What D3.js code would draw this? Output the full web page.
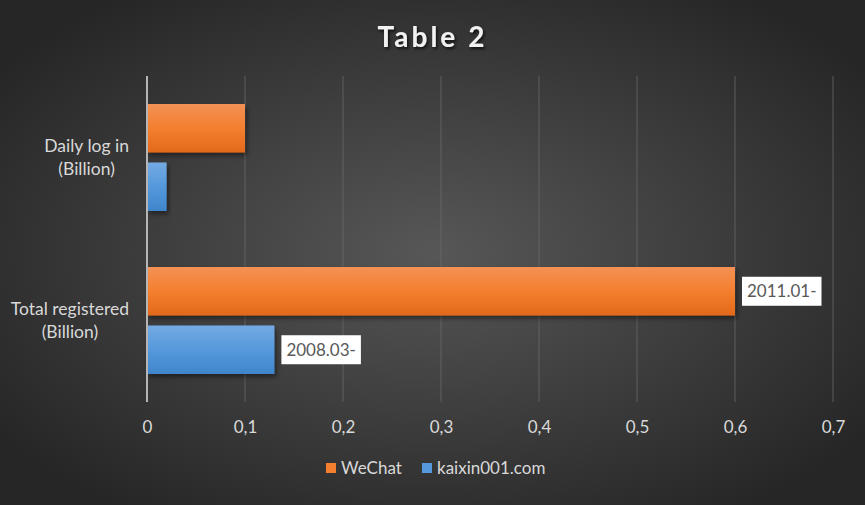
<!DOCTYPE html>
<html>
<head>
<meta charset="utf-8">
<script src="https://cdn.jsdelivr.net/npm/d3@7"></script>
<style>
  html, body { margin: 0; padding: 0; background: #333; }
  svg { display: block; }
</style>
</head>
<body>
<script>
const categories = ["Daily log in (Billion)", "Total registered (Billion)"];
const seriesNames = ["WeChat", "kaixin001.com"];
const wechatValues = [0.1, 0.6];
const kaixinValues = [0.02, 0.13];
const dataLabels = { WeChat: [null, "2011.01-"], "kaixin001.com": [null, "2008.03-"] };
const tickValues = [0, 0.1, 0.2, 0.3, 0.4, 0.5, 0.6, 0.7];
const title = "Table 2";

const W = 865, H = 505;
const FONT = "Lato, 'Open Sans', sans-serif";
const margin = { left: 147, right: 32, top: 76, bottom: 103 };

const svg = d3.select("body").append("svg").attr("width", W).attr("height", H);
const defs = svg.append("defs");

const bg = defs.append("radialGradient").attr("id", "bg")
  .attr("cx", "50%").attr("cy", "50%").attr("r", "62%");
bg.append("stop").attr("offset", "0%").attr("stop-color", "#575757");
bg.append("stop").attr("offset", "100%").attr("stop-color", "#262626");

function barGrad(id, top, mid, bot) {
  const g = defs.append("linearGradient").attr("id", id).attr("x1", 0).attr("y1", 0).attr("x2", 0).attr("y2", 1);
  g.append("stop").attr("offset", "0%").attr("stop-color", top);
  g.append("stop").attr("offset", "50%").attr("stop-color", mid);
  g.append("stop").attr("offset", "100%").attr("stop-color", bot);
}
barGrad("gWeChat", "#f39155", "#f47f2f", "#e2681a");
barGrad("gKaixin", "#74aae2", "#5599dc", "#3f85cb");

const sh = defs.append("filter").attr("id", "shadow").attr("x", "-10%").attr("y", "-30%").attr("width", "130%").attr("height", "180%");
sh.append("feDropShadow").attr("dx", 2).attr("dy", 3).attr("stdDeviation", 2.5)
  .attr("flood-color", "#000").attr("flood-opacity", 0.45);

const tsh = defs.append("filter").attr("id", "tshadow").attr("x", "-20%").attr("y", "-40%").attr("width", "140%").attr("height", "180%");
tsh.append("feDropShadow").attr("dx", 1.5).attr("dy", 2).attr("stdDeviation", 1.5)
  .attr("flood-color", "#000").attr("flood-opacity", 0.7);

svg.append("rect").attr("width", W).attr("height", H).attr("fill", "url(#bg)");

const x = d3.scaleLinear().domain([0, 0.7]).range([margin.left, W - margin.right]);
const y = d3.scaleBand().domain(categories).range([margin.top, H - margin.bottom]).paddingInner(0).paddingOuter(0);
const inner = d3.scaleBand().domain(seriesNames).range([28, y.bandwidth() - 28]).paddingInner(0.17).paddingOuter(0);

// gridlines
svg.append("g").selectAll("line").data(tickValues.slice(1)).join("line")
  .attr("x1", d => x(d)).attr("x2", d => x(d))
  .attr("y1", margin.top).attr("y2", H - margin.bottom)
  .attr("stroke", "#6a6a6a").attr("stroke-width", 1).attr("opacity", 0.75);

// x axis labels
const xAxis = d3.axisBottom(x).tickValues(tickValues).tickSize(0).tickPadding(0)
  .tickFormat(d => d3.format("~g")(d).replace(".", ","));
const xg = svg.append("g").attr("transform", `translate(0,${H - margin.bottom + 31})`).call(xAxis);
xg.select(".domain").remove();
xg.selectAll("text").attr("fill", "#d9d9d9").style("font-family", FONT).style("font-size", "17px").attr("dy", "0");

// bars
const series = [
  { name: "WeChat", values: wechatValues, fill: "url(#gWeChat)" },
  { name: "kaixin001.com", values: kaixinValues, fill: "url(#gKaixin)" }
];
const gBars = svg.append("g");
series.forEach(s => {
  categories.forEach((c, i) => {
    const v = s.values[i];
    gBars.append("rect")
      .attr("x", x(0)).attr("y", y(c) + inner(s.name))
      .attr("width", x(v) - x(0)).attr("height", inner.bandwidth())
      .attr("fill", s.fill).attr("filter", "url(#shadow)");
  });
});

// axis line (vertical)
svg.append("line").attr("x1", x(0)).attr("x2", x(0))
  .attr("y1", margin.top).attr("y2", H - margin.bottom)
  .attr("stroke", "#b5b5b5").attr("stroke-width", 2);

// data labels
series.forEach(s => {
  categories.forEach((c, i) => {
    const lbl = dataLabels[s.name][i];
    if (!lbl) return;
    const v = s.values[i];
    const cy = y(c) + inner(s.name) + inner.bandwidth() / 2;
    const g = svg.append("g");
    const t = g.append("text").text(lbl)
      .attr("x", x(v) + 12).attr("y", cy).attr("dy", "0.35em")
      .attr("fill", "#595959").style("font-family", FONT).style("font-size", "17px");
    const bb = t.node().getBBox();
    g.insert("rect", "text").attr("x", x(v) + 7).attr("y", cy - 14.5)
      .attr("width", bb.width + 10).attr("height", 29).attr("fill", "#ffffff");
  });
});

// category labels
categories.forEach(c => {
  const m = c.match(/^(.*) (\(.*\))$/);
  const lines = [m[1], m[2]];
  const cy = y(c) + y.bandwidth() / 2;
  const g = svg.append("g");
  const texts = lines.map((l, k) => g.append("text").text(l)
    .attr("y", cy + (k - 0.5) * 23.5).attr("dy", "0.35em")
    .attr("fill", "#d9d9d9").attr("text-anchor", "middle")
    .style("font-family", FONT).style("font-size", "17.5px"));
  const maxW = d3.max(texts, t => t.node().getComputedTextLength());
  texts.forEach(t => t.attr("x", margin.left - 18 - maxW / 2));
});

// title
svg.append("text").text(title)
  .attr("x", W / 2).attr("y", 47).attr("text-anchor", "middle")
  .attr("fill", "#f2f2f2").attr("filter", "url(#tshadow)")
  .style("font-family", FONT).style("font-size", "28px").style("font-weight", "bold")
  .style("letter-spacing", "3px");

// legend
const legend = svg.append("g");
const legItems = [
  { name: "WeChat", color: "#f47f2f", x: 326 },
  { name: "kaixin001.com", color: "#5599dc", x: 422 }
];
legItems.forEach(d => {
  legend.append("rect").attr("x", d.x).attr("y", 463).attr("width", 10).attr("height", 10).attr("fill", d.color);
  legend.append("text").text(d.name).attr("x", d.x + 15).attr("y", 468).attr("dy", "0.35em")
    .attr("fill", "#d9d9d9").style("font-family", FONT).style("font-size", "17px");
});
</script>
</body>
</html>
